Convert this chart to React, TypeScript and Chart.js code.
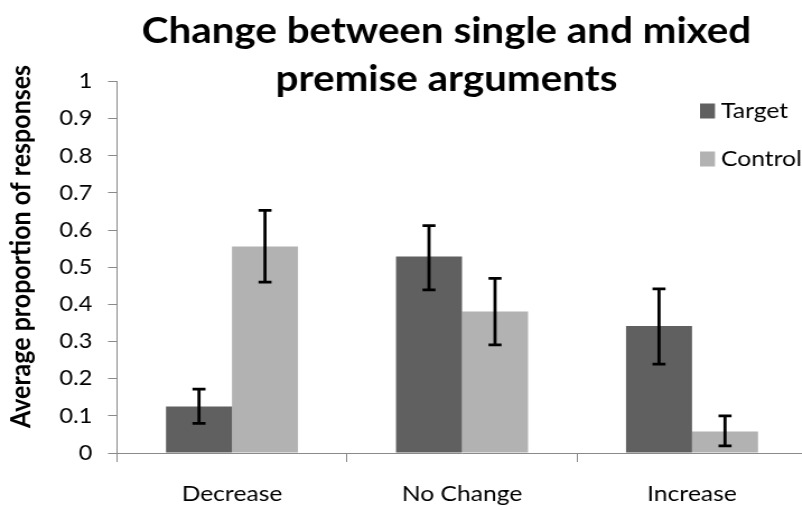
import React, { useEffect, useRef } from "react";
import { Chart, registerables } from "chart.js";

Chart.register(...registerables);

// ---- data ----
const categories = ["Decrease", "No Change", "Increase"];
const seriesNames = ["Target", "Control"];
const targetValues = [0.125, 0.529, 0.342];
const controlValues = [0.556, 0.381, 0.058];
const targetLow = [0.08, 0.439, 0.239];
const targetHigh = [0.172, 0.612, 0.442];
const controlLow = [0.46, 0.291, 0.019];
const controlHigh = [0.653, 0.47, 0.1];
const titleLines = ["Change between single and mixed", "premise arguments"];
const yAxisTitle = "Average proportion of responses";
const yMin = 0;
const yMax = 1;
const yStep = 0.1;

// ---- style ----
const S = 1.12; // horizontal stretch of the original picture
const W = Math.ceil(815 / S);
const H = 510;
const FONT = "Lato, 'Open Sans', sans-serif";
const COLORS = ["#606060", "#b2b2b2"];
const AXIS = "#8a8a8a";

const lows = [targetLow, controlLow];
const highs = [targetHigh, controlHigh];

const overlay = {
  id: "overlay",
  afterDatasetsDraw(chart: any) {
    const ctx = chart.ctx;
    const y = chart.scales.y;
    const cap = 6.5 / S;
    ctx.save();
    ctx.strokeStyle = "#000";
    ctx.lineWidth = 2.8;
    chart.data.datasets.forEach((_ds: any, i: number) => {
      const meta = chart.getDatasetMeta(i);
      meta.data.forEach((bar: any, j: number) => {
        const x = bar.x;
        const yl = y.getPixelForValue(lows[i][j]);
        const yh = y.getPixelForValue(highs[i][j]);
        ctx.beginPath();
        ctx.moveTo(x, yl);
        ctx.lineTo(x, yh);
        ctx.moveTo(x - cap, yl);
        ctx.lineTo(x + cap, yl);
        ctx.moveTo(x - cap, yh);
        ctx.lineTo(x + cap, yh);
        ctx.stroke();
      });
    });
    ctx.restore();
  },
  afterDraw(chart: any) {
    const ctx = chart.ctx;
    ctx.save();
    // title
    ctx.fillStyle = "#000";
    ctx.font = `bold 36px ${FONT}`;
    ctx.textAlign = "center";
    ctx.textBaseline = "alphabetic";
    ctx.fillText(titleLines[0], 446.5 / S, 43);
    ctx.fillText(titleLines[1], 446.5 / S, 91);
    // y axis title
    ctx.save();
    ctx.translate(21 / S, 246.5);
    ctx.rotate(-Math.PI / 2);
    ctx.font = `bold 25px ${FONT}`;
    ctx.textBaseline = "middle";
    ctx.fillText(yAxisTitle, 0, 0);
    ctx.restore();
    // legend
    ctx.font = `22px ${FONT}`;
    ctx.textAlign = "left";
    ctx.textBaseline = "alphabetic";
    chart.data.datasets.forEach((ds: any, i: number) => {
      const base = 118 + i * 48;
      ctx.fillStyle = ds.backgroundColor;
      ctx.fillRect(700 / S, base - 14.5, 15 / S, 15);
      ctx.fillStyle = "#000";
      ctx.fillText(ds.label, 721 / S, base);
    });
    ctx.restore();
  },
};

export default function App() {
  const ref = useRef<HTMLCanvasElement | null>(null);
  useEffect(() => {
    document.body.style.margin = "0";
    document.body.style.overflow = "hidden";
    const chart = new Chart(ref.current as HTMLCanvasElement, {
      type: "bar",
      data: {
        labels: categories,
        datasets: [
          { label: seriesNames[0], data: targetValues, backgroundColor: COLORS[0] },
          { label: seriesNames[1], data: controlValues, backgroundColor: COLORS[1] },
        ],
      },
      options: {
        animation: false,
        responsive: true,
        maintainAspectRatio: false,
        layout: { padding: { top: 81.5, right: W - 807 / S, left: 0, bottom: 0 } },
        datasets: { bar: { categoryPercentage: 0.574, barPercentage: 1 } },
        plugins: { legend: { display: false }, title: { display: false }, tooltip: { enabled: false } },
        scales: {
          x: {
            grid: { display: true, drawOnChartArea: false, tickLength: 9, color: AXIS, offset: true },
            border: { color: AXIS },
            ticks: { color: "#000", font: { family: FONT, size: 22 }, padding: 19 },
            afterFit: (s: any) => { s.height = H - 453; },
          },
          y: {
            min: yMin,
            max: yMax,
            grid: { display: true, drawOnChartArea: false, tickLength: 9 / S, color: AXIS },
            border: { color: AXIS },
            ticks: {
              stepSize: yStep,
              color: "#000",
              font: { family: FONT, size: 21 },
              padding: 14,
              callback: (v: any) => String(Math.round(Number(v) * 10) / 10),
            },
            afterFit: (s: any) => { s.width = 117 / S; },
          },
        },
      },
      plugins: [overlay],
    });
    return () => chart.destroy();
  }, []);
  return (
    <div style={{ position: "absolute", left: 0, top: 0, width: 802, height: H, overflow: "hidden" }}>
      <div style={{ width: W, height: H, transform: `scaleX(${S})`, transformOrigin: "0 0" }}>
        <canvas ref={ref} />
      </div>
    </div>
  );
}
